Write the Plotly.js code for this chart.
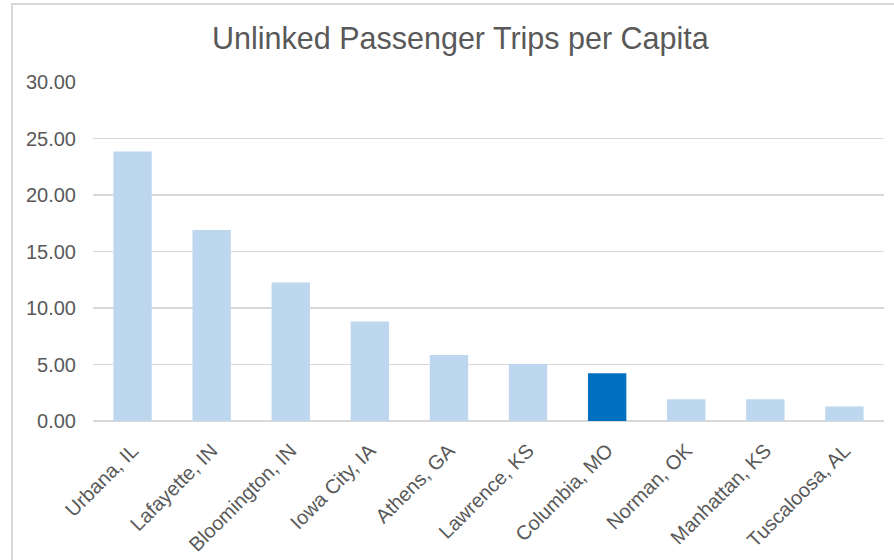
<!DOCTYPE html>
<html>
<head>
<meta charset="utf-8">
<script src="https://cdn.plot.ly/plotly-3.0.1.min.js"></script>
<style>
  html, body { margin: 0; padding: 0; background: #ffffff; }
  #wrap { position: relative; width: 894px; height: 560px; overflow: hidden; }
  #chart { position: absolute; left: 0; top: 0; width: 894px; height: 560px; }
  #frame { position: absolute; left: 11px; top: 3px; width: 900px; height: 600px;
           border-left: 2px solid #D9D9D9; border-top: 2px solid #D9D9D9;
           pointer-events: none; z-index: 5; }
</style>
</head>
<body>
<div id="wrap">
  <div id="chart"></div>
  <div id="frame"></div>
</div>
<script>
const cities = ["Urbana, IL", "Lafayette, IN", "Bloomington, IN", "Iowa City, IA", "Athens, GA",
                "Lawrence, KS", "Columbia, MO", "Norman, OK", "Manhattan, KS", "Tuscaloosa, AL"];
const tripsPerCapita = [23.85, 16.9, 12.25, 8.8, 5.85, 5.05, 4.22, 1.92, 1.92, 1.28];
const highlightCity = "Columbia, MO";
const yTickVals = [0, 5, 10, 15, 20, 25, 30];

const baseColor = "#BDD7EE";
const highlightColor = "#0070C0";
const textColor = "#595959";
const fontFamily = "Liberation Sans, Arial, sans-serif";

const barColors = cities.map(c => c === highlightCity ? highlightColor : baseColor);

const trace = {
  type: "bar",
  x: cities,
  y: tripsPerCapita,
  marker: { color: barColors, line: { width: 0 } },
  hoverinfo: "x+y"
};

const layout = {
  width: 894,
  height: 560,
  paper_bgcolor: "#ffffff",
  plot_bgcolor: "#ffffff",
  margin: { l: 93, r: 10, t: 82, b: 139, pad: 0 },
  showlegend: false,
  bargap: 0.515,
  title: {
    text: "Unlinked Passenger Trips per Capita",
    font: { family: fontFamily, size: 30.5, color: textColor },
    x: 0.515, xanchor: "center",
    y: 0.932, yanchor: "middle", yref: "container"
  },
  xaxis: {
    type: "category",
    tickangle: -45,
    tickfont: { family: fontFamily, size: 20, color: textColor },
    showgrid: false,
    showline: false,
    ticks: "",
    ticklabelstandoff: 13,
    zeroline: false
  },
  yaxis: {
    range: [0, 30],
    tickvals: yTickVals,
    tickformat: ".2f",
    tickfont: { family: fontFamily, size: 20, color: textColor },
    showgrid: true,
    gridcolor: "#D9D9D9",
    gridwidth: 1.3,
    zeroline: true,
    zerolinecolor: "#D9D9D9",
    zerolinewidth: 1.5,
    showline: false,
    ticks: "",
    ticklabelstandoff: 16
  }
};

Plotly.newPlot("chart", [trace], layout, { displayModeBar: false, staticPlot: true });
</script>
</body>
</html>
